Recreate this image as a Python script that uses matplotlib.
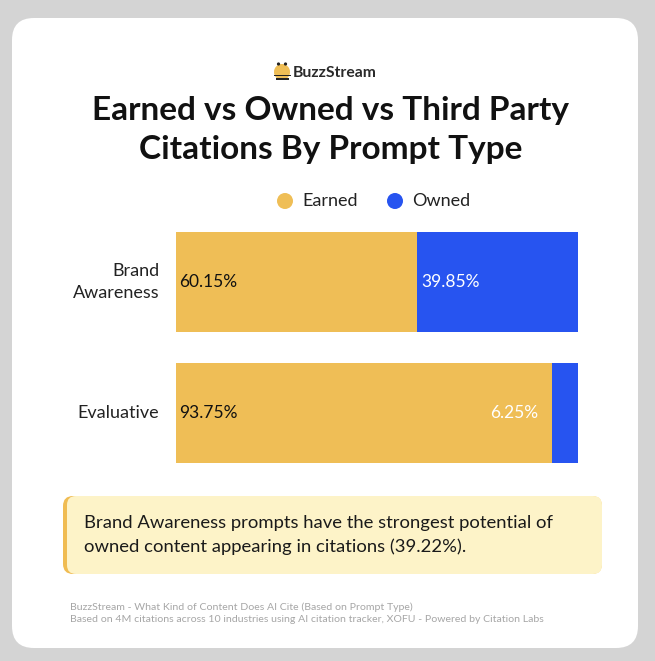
import matplotlib.pyplot as plt
from matplotlib.patches import FancyBboxPatch, Circle, Wedge, Rectangle

plt.rcParams['font.family'] = ['Lato', 'DejaVu Sans']

# data
categories = ['Brand\nAwareness', 'Evaluative']
earned = [60.15, 93.75]
owned = [39.85, 6.25]
series_names = ['Earned', 'Owned']
colors = ['#EFBE56', '#2754F0']

title = 'Earned vs Owned vs Third Party\nCitations By Prompt Type'
note = ('Brand Awareness prompts have the strongest potential of\n'
        'owned content appearing in citations (39.22%).')
footer = ('BuzzStream - What Kind of Content Does AI Cite (Based on Prompt Type)\n'
          'Based on 4M citations across 10 industries using AI citation tracker, XOFU - Powered by Citation Labs')

W, H = 655, 661
fig = plt.figure(figsize=(W / 100, H / 100), dpi=100)
fig.patch.set_facecolor('#d4d4d4')

# background layer in pixel coords
bg = fig.add_axes([0, 0, 1, 1])
bg.set_xlim(0, W)
bg.set_ylim(H, 0)
bg.axis('off')

bg.add_patch(FancyBboxPatch((12, 18), 626, 630, boxstyle='round,pad=0,rounding_size=22',
                            fc='white', ec='none'))

# logo
bg.add_patch(Wedge((282, 72), 8, 0, 360, fc='#EFBE56', ec='none'))
bg.add_patch(Rectangle((273.5, 74.5), 17, 1.8, fc='#222222', ec='none'))
bg.add_patch(Rectangle((275.5, 78.2), 13, 1.8, fc='#222222', ec='none'))
bg.add_patch(Circle((278.5, 64), 1.6, fc='#222222', ec='none'))
bg.add_patch(Circle((285.5, 64), 1.6, fc='#222222', ec='none'))
bg.text(293, 73, 'BuzzStream', fontsize=11.3, fontweight='bold', color='#2a2a2a',
        ha='left', va='center')

bg.text(331, 130, title, fontsize=24, fontweight='bold', color='#111111',
        ha='center', va='center', linespacing=1.4)

# legend
lx = [285, 395]
for x, name, c in zip(lx, series_names, colors):
    bg.add_patch(Circle((x, 201), 8, fc=c, ec='none'))
    bg.text(x + 17, 201, name, fontsize=13, color='#222222', ha='left', va='center')

# callout
bg.add_patch(FancyBboxPatch((63, 496), 539, 78, boxstyle='round,pad=0,rounding_size=10',
                            fc='#F0BC52', ec='none'))
bg.add_patch(FancyBboxPatch((67, 496), 535, 78, boxstyle='round,pad=0,rounding_size=9',
                            fc='#FDF3C8', ec='none'))
bg.text(84, 535, note, fontsize=13.3, color='#1a1a1a', ha='left', va='center',
        linespacing=1.5)

bg.text(70, 613, footer, fontsize=7.55, color='#a6a6a6', ha='left', va='center',
        linespacing=1.4)

# bars
ax = fig.add_axes([175.5 / W, 1 - 463 / H, 402 / W, 231 / H])
ax.patch.set_alpha(0)
h = 0.77
ypos = list(range(len(categories)))
ax.barh(ypos, earned, height=h, color=colors[0])
ax.barh(ypos, owned, left=earned, height=h, color=colors[1])
ax.set_xlim(0, 100)
ax.set_ylim(len(categories) - 1 + h / 2, -h / 2)
ax.axis('off')

for y, e, o, cat in zip(ypos, earned, owned, categories):
    ax.text(1, y, f'{e:.2f}%', fontsize=12.5, color='#111111', ha='left', va='center')
    if o > 15:
        ax.text(e + 1, y, f'{o:.2f}%', fontsize=12.5, color='white', ha='left', va='center')
    else:
        ax.text(e - 3.5, y, f'{o:.2f}%', fontsize=12.5, color='white', ha='right', va='center')
    ax.text(-4, y, cat, fontsize=13, color='#222222', ha='right', va='center',
            multialignment='right', linespacing=1.45)

fig.savefig('out.png', dpi=100, facecolor=fig.get_facecolor())
